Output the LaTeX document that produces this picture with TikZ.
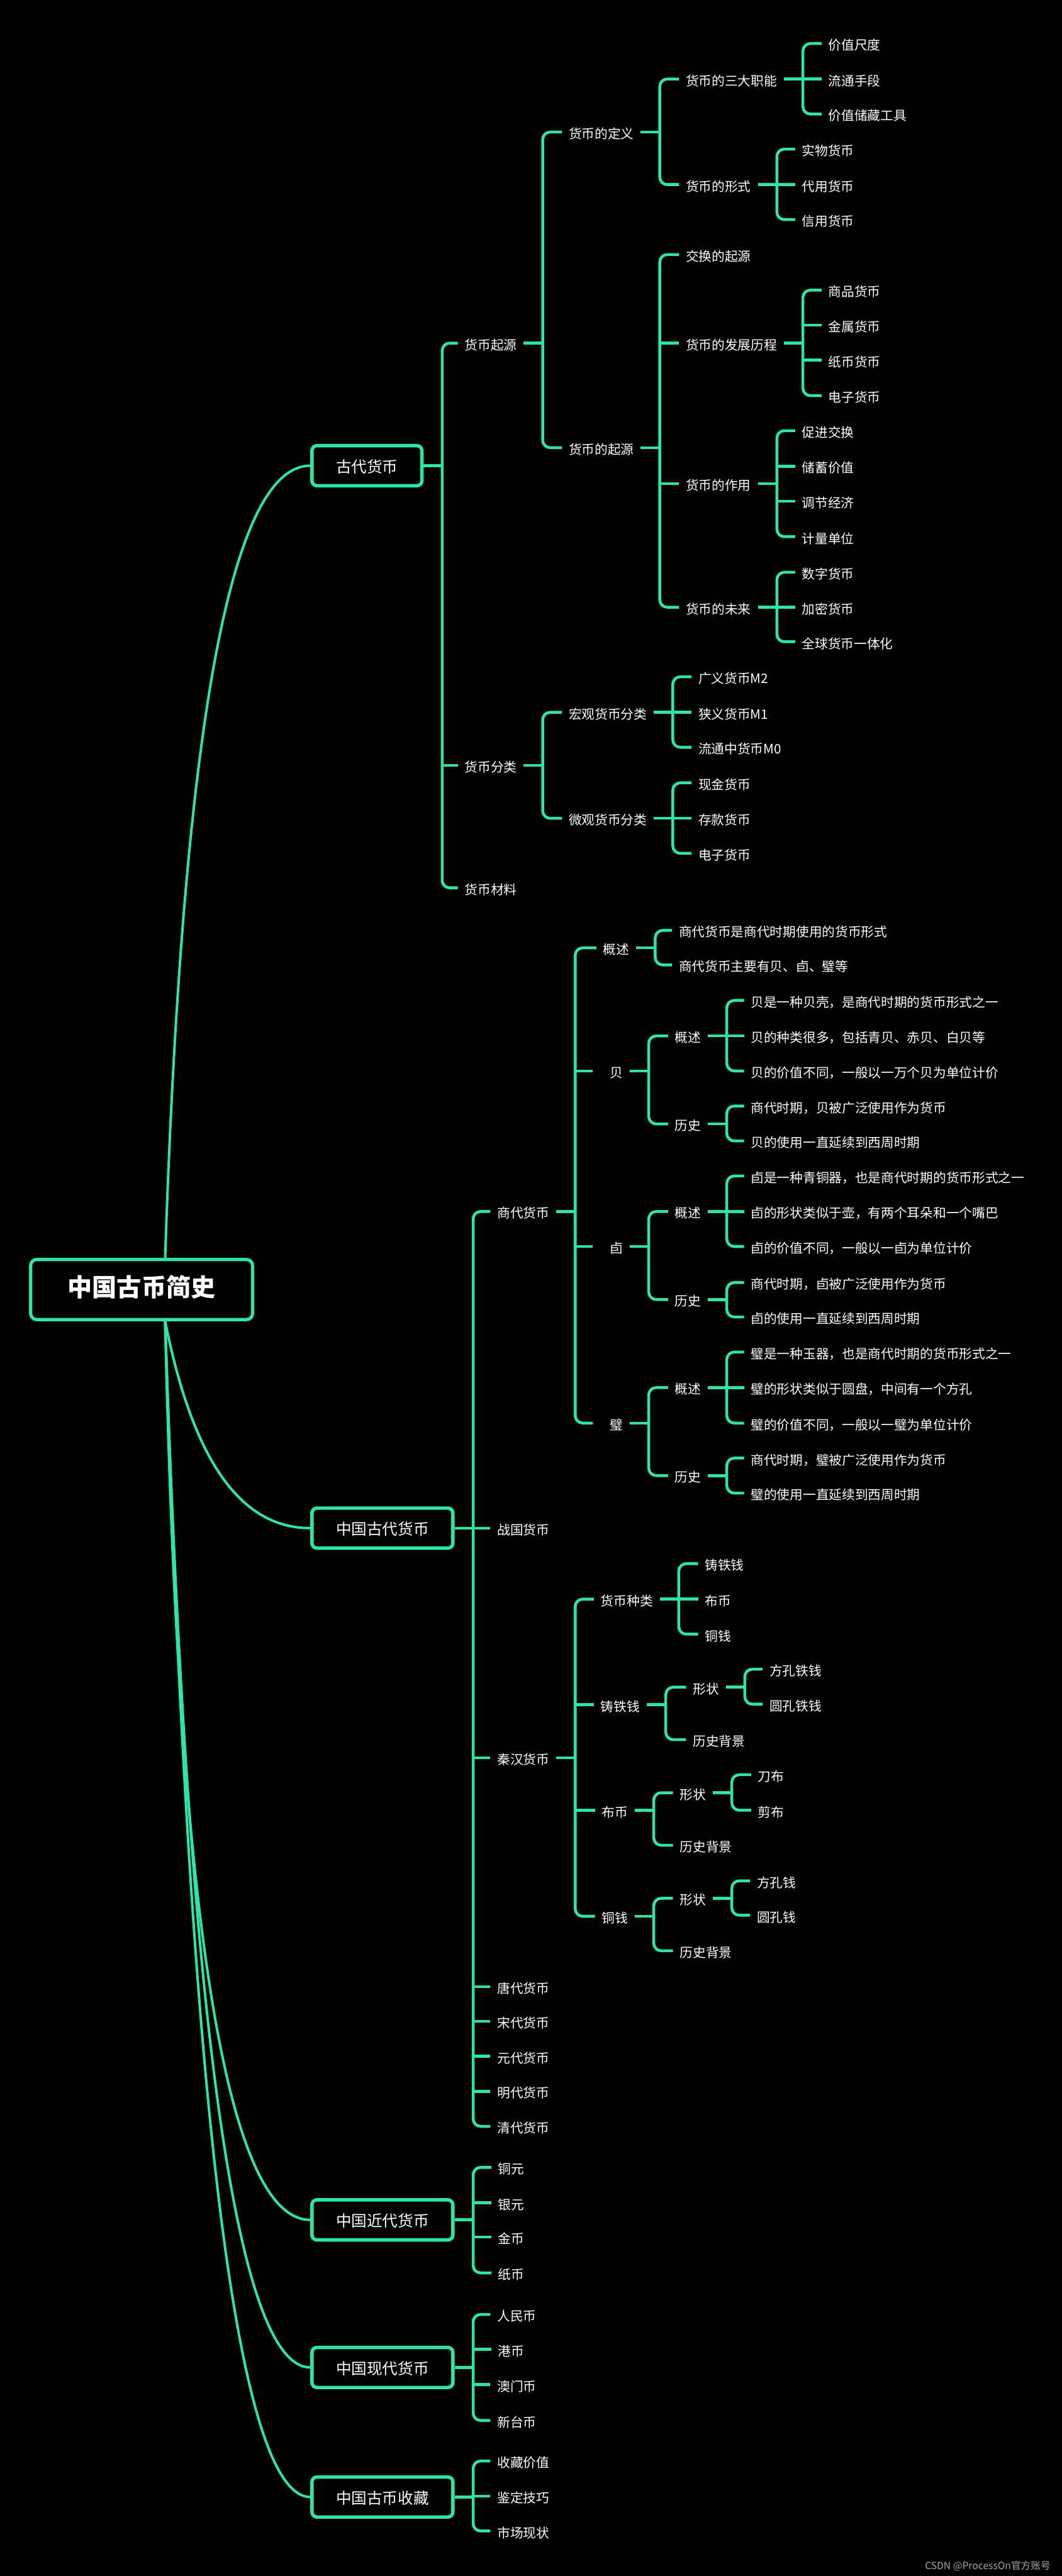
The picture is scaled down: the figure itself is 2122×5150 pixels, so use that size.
\documentclass[tikz,border=0pt]{standalone}
\usepackage{fontspec}
\newfontfamily\cjk{Noto Sans CJK SC}
\definecolor{mmgreen}{HTML}{2DE6A6}
\definecolor{mmgray}{HTML}{A8A8A8}
\newcommand\mmbr[4][38]{%
  \draw[lk] (#2.east) -- ++(#1,0) coordinate (#2-v);
  \draw[lk, rounded corners=0.15cm] (#3.west) -| (#2-v) |- (#4.west);
}
\newcommand\mmmid[2]{\draw[lk] (#1-v |- #2.west) -- (#2.west);}
\tikzset{
  lk/.style={draw=mmgreen, line width=0.057cm},
  cv/.style={draw=mmgreen, line width=0.05cm},
  t/.style={anchor=west, xshift=-0.13cm, inner xsep=0.13cm, inner ysep=0pt,
    text height=0.88em, text depth=0.12em, text=white,
    font=\cjk\fontsize{7.4}{8}\selectfont},
  box/.style={anchor=west, draw=mmgreen, line width=0.068cm, rounded corners=0.1cm,
    fill=black, text=white, minimum height=0.8cm, inner xsep=0.48cm, inner ysep=0pt,
    text height=0.88em, text depth=0.12em, font=\cjk\fontsize{8.8}{9}\selectfont},
  rootbox/.style={anchor=west, draw=mmgreen, line width=0.065cm, rounded corners=0.12cm,
    fill=black, text=white, minimum height=1.2cm, inner xsep=0.74cm, inner ysep=0pt,
    text height=0.88em, text depth=0.12em, font=\cjk\bfseries\fontsize{14}{14}\selectfont}
}
\begin{document}
\begin{tikzpicture}[x=0.01cm, y=-0.01cm]
\fill[black] (0,0) rectangle (2122,5150);
\useasboundingbox (0,0) rectangle (2122,5150);

% root and level 1
\node[rootbox] (root) at (58,2578) {中国古币简史};
\node[box] (b1) at (620,931) {古代货币};
\node[box] (b2) at (620,3055) {中国古代货币};
\node[box] (b3) at (620,4438) {中国近代货币};
\node[box] (b4) at (620,4733) {中国现代货币};
\node[box] (b5) at (620,4992) {中国古币收藏};

\coordinate (rt) at ([xshift=0.47cm]root.north);
\coordinate (rb) at ([xshift=0.47cm]root.south);
\draw[cv] (rt) .. controls +(35,-1057) and +(-160,0) .. (b1.west);
\draw[cv] (rb) .. controls +(55,277) and +(-140,0) .. (b2.west);
\draw[cv] (rb) .. controls +(27,1199) and +(-168,0) .. (b3.west);
\draw[cv] (rb) .. controls +(46,1395) and +(-149,0) .. (b4.west);
\draw[cv] (rb) .. controls +(49,1568) and +(-147,0) .. (b5.west);

% ---------- 古代货币 ----------
\node[t] (a1) at (928,686) {货币起源};
\node[t] (a2) at (928,1530) {货币分类};
\node[t] (a3) at (928,1775) {货币材料};
\node[t] (a11) at (1136,264) {货币的定义};
\node[t] (a12) at (1136,895) {货币的起源};
\node[t] (a111) at (1370,158) {货币的三大职能};
\node[t] (a112) at (1370,369) {货币的形式};
\node[t] (a1111) at (1655,87) {价值尺度};
\node[t] (a1112) at (1655,158) {流通手段};
\node[t] (a1113) at (1655,228) {价值储藏工具};
\node[t] (a1121) at (1602,298) {实物货币};
\node[t] (a1122) at (1602,369) {代用货币};
\node[t] (a1123) at (1602,439) {信用货币};
\node[t] (a121) at (1370,509) {交换的起源};
\node[t] (a122) at (1370,686) {货币的发展历程};
\node[t] (a123) at (1370,967) {货币的作用};
\node[t] (a124) at (1370,1214) {货币的未来};
\node[t] (a1221) at (1655,580) {商品货币};
\node[t] (a1222) at (1655,650) {金属货币};
\node[t] (a1223) at (1655,720) {纸币货币};
\node[t] (a1224) at (1655,791) {电子货币};
\node[t] (a1231) at (1602,861) {促进交换};
\node[t] (a1232) at (1602,932) {储蓄价值};
\node[t] (a1233) at (1602,1002) {调节经济};
\node[t] (a1234) at (1602,1073) {计量单位};
\node[t] (a1241) at (1602,1144) {数字货币};
\node[t] (a1242) at (1602,1214) {加密货币};
\node[t] (a1243) at (1602,1283) {全球货币一体化};
\node[t] (a21) at (1136,1424) {宏观货币分类};
\node[t] (a22) at (1136,1636) {微观货币分类};
\node[t] (a211) at (1395,1353) {广义货币M2};
\node[t] (a212) at (1395,1424) {狭义货币M1};
\node[t] (a213) at (1395,1494) {流通中货币M0};
\node[t] (a221) at (1395,1565) {现金货币};
\node[t] (a222) at (1395,1636) {存款货币};
\node[t] (a223) at (1395,1706) {电子货币};

\mmbr[37]{b1}{a1}{a3} \mmmid{b1}{a2}
\mmbr{a1}{a11}{a12}
\mmbr{a11}{a111}{a112}
\mmbr{a111}{a1111}{a1113} \mmmid{a111}{a1112}
\mmbr{a112}{a1121}{a1123} \mmmid{a112}{a1122}
\mmbr{a12}{a121}{a124} \mmmid{a12}{a122} \mmmid{a12}{a123}
\mmbr{a122}{a1221}{a1224} \mmmid{a122}{a1222} \mmmid{a122}{a1223}
\mmbr{a123}{a1231}{a1234} \mmmid{a123}{a1232} \mmmid{a123}{a1233}
\mmbr{a124}{a1241}{a1243} \mmmid{a124}{a1242}
\mmbr{a2}{a21}{a22}
\mmbr{a21}{a211}{a213} \mmmid{a21}{a212}
\mmbr{a22}{a221}{a223} \mmmid{a22}{a222}

% ---------- 中国古代货币 ----------
\node[t] (b21) at (993,2422) {商代货币};
\node[t] (b22) at (993,3055) {战国货币};
\node[t] (b23) at (993,3514) {秦汉货币};
\node[t] (b24) at (993,3972) {唐代货币};
\node[t] (b25) at (993,4041) {宋代货币};
\node[t] (b26) at (993,4111) {元代货币};
\node[t] (b27) at (993,4181) {明代货币};
\node[t] (b28) at (993,4251) {清代货币};

\node[t] (b211) at (1205,1895) {概述};
\node[t] (b2111) at (1356,1860) {商代货币是商代时期使用的货币形式};
\node[t] (b2112) at (1356,1929) {商代货币主要有贝、卣、璧等};

\node[t] (b212) at (1198,2141) {\kern0.2cm 贝};
\node[t] (b2121) at (1348,2071) {概述};
\node[t] (b2122) at (1348,2247) {历史};
\node[t] (b21211) at (1500,2000) {贝是一种贝壳，是商代时期的货币形式之一};
\node[t] (b21212) at (1500,2071) {贝的种类很多，包括青贝、赤贝、白贝等};
\node[t] (b21213) at (1500,2141) {贝的价值不同，一般以一万个贝为单位计价};
\node[t] (b21221) at (1500,2211) {商代时期，贝被广泛使用作为货币};
\node[t] (b21222) at (1500,2281) {贝的使用一直延续到西周时期};

\node[t] (b213) at (1198,2492) {\kern0.2cm 卣};
\node[t] (b2131) at (1348,2422) {概述};
\node[t] (b2132) at (1348,2598) {历史};
\node[t] (b21311) at (1500,2351) {卣是一种青铜器，也是商代时期的货币形式之一};
\node[t] (b21312) at (1500,2422) {卣的形状类似于壶，有两个耳朵和一个嘴巴};
\node[t] (b21313) at (1500,2492) {卣的价值不同，一般以一卣为单位计价};
\node[t] (b21321) at (1500,2564) {商代时期，卣被广泛使用作为货币};
\node[t] (b21322) at (1500,2633) {卣的使用一直延续到西周时期};

\node[t] (b214) at (1198,2845) {\kern0.2cm 璧};
\node[t] (b2141) at (1348,2774) {概述};
\node[t] (b2142) at (1348,2950) {历史};
\node[t] (b21411) at (1500,2703) {璧是一种玉器，也是商代时期的货币形式之一};
\node[t] (b21412) at (1500,2774) {璧的形状类似于圆盘，中间有一个方孔};
\node[t] (b21413) at (1500,2845) {璧的价值不同，一般以一璧为单位计价};
\node[t] (b21421) at (1500,2915) {商代时期，璧被广泛使用作为货币};
\node[t] (b21422) at (1500,2985) {璧的使用一直延续到西周时期};

\node[t] (b231) at (1200,3197) {货币种类};
\node[t] (b2311) at (1408,3126) {铸铁钱};
\node[t] (b2312) at (1408,3197) {布币};
\node[t] (b2313) at (1408,3267) {铜钱};
\node[t] (b232) at (1200,3408) {铸铁钱};
\node[t] (b2321) at (1384,3373) {形状};
\node[t] (b2322) at (1384,3478) {历史背景};
\node[t] (b23211) at (1537,3337) {方孔铁钱};
\node[t] (b23212) at (1537,3407) {圆孔铁钱};
\node[t] (b233) at (1202,3619) {布币};
\node[t] (b2331) at (1358,3584) {形状};
\node[t] (b2332) at (1358,3689) {历史背景};
\node[t] (b23311) at (1514,3548) {刀布};
\node[t] (b23312) at (1514,3619) {剪布};
\node[t] (b234) at (1202,3831) {铜钱};
\node[t] (b2341) at (1358,3795) {形状};
\node[t] (b2342) at (1358,3900) {历史背景};
\node[t] (b23411) at (1512,3760) {方孔钱};
\node[t] (b23412) at (1512,3829) {圆孔钱};

\mmbr[37]{b2}{b21}{b28}
\mmmid{b2}{b22} \mmmid{b2}{b23} \mmmid{b2}{b24}
\mmmid{b2}{b25} \mmmid{b2}{b26} \mmmid{b2}{b27}
\mmbr{b21}{b211}{b214} \mmmid{b21}{b212} \mmmid{b21}{b213}
\mmbr{b211}{b2111}{b2112}
\mmbr{b212}{b2121}{b2122}
\mmbr{b2121}{b21211}{b21213} \mmmid{b2121}{b21212}
\mmbr{b2122}{b21221}{b21222}
\mmbr{b213}{b2131}{b2132}
\mmbr{b2131}{b21311}{b21313} \mmmid{b2131}{b21312}
\mmbr{b2132}{b21321}{b21322}
\mmbr{b214}{b2141}{b2142}
\mmbr{b2141}{b21411}{b21413} \mmmid{b2141}{b21412}
\mmbr{b2142}{b21421}{b21422}
\mmbr{b23}{b231}{b234} \mmmid{b23}{b232} \mmmid{b23}{b233}
\mmbr{b231}{b2311}{b2313} \mmmid{b231}{b2312}
\mmbr{b232}{b2321}{b2322}
\mmbr{b2321}{b23211}{b23212}
\mmbr{b233}{b2331}{b2332}
\mmbr{b2331}{b23311}{b23312}
\mmbr{b234}{b2341}{b2342}
\mmbr{b2341}{b23411}{b23412}

% ---------- 近代 / 现代 / 收藏 ----------
\node[t] (c1) at (995,4333) {铜元};
\node[t] (c2) at (995,4404) {银元};
\node[t] (c3) at (995,4472) {金币};
\node[t] (c4) at (995,4544) {纸币};
\mmbr[37]{b3}{c1}{c4} \mmmid{b3}{c2} \mmmid{b3}{c3}

\node[t] (d1) at (993,4627) {人民币};
\node[t] (d2) at (995,4697) {港币};
\node[t] (d3) at (993,4767) {澳门币};
\node[t] (d4) at (993,4839) {新台币};
\mmbr[37]{b4}{d1}{d4} \mmmid{b4}{d2} \mmmid{b4}{d3}

\node[t] (e1) at (993,4920) {收藏价值};
\node[t] (e2) at (993,4990) {鉴定技巧};
\node[t] (e3) at (993,5060) {市场现状};
\mmbr[37]{b5}{e1}{e3} \mmmid{b5}{e2}

\node[anchor=east, inner sep=0pt, text=mmgray, font=\cjk\fontsize{5.6}{6}\selectfont] (wm) at (2100,5130) {CSDN @ProcessOn官方账号};
\end{tikzpicture}
\end{document}
